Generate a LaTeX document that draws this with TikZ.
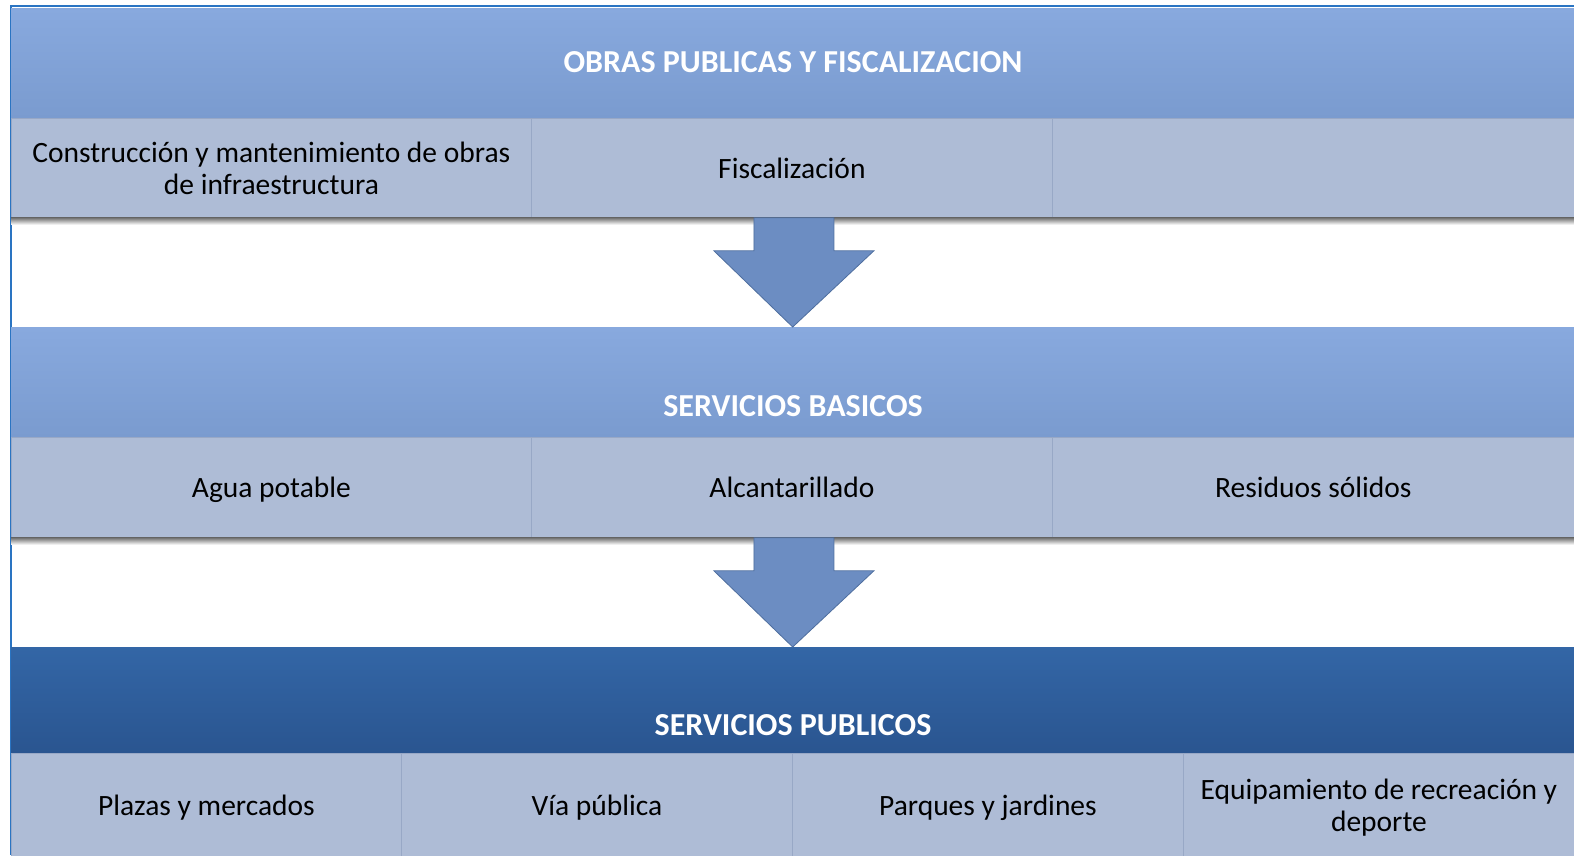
\documentclass[tikz,border=0pt]{standalone}
\usepackage{fontspec}
\setmainfont{Carlito}
\usetikzlibrary{calc}

\definecolor{bandtop}{HTML}{88A9DE}
\definecolor{bandbot}{HTML}{7A9BCF}
\definecolor{darktop}{HTML}{3366A6}
\definecolor{darkbot}{HTML}{2A5590}
\definecolor{cellfill}{HTML}{AEBCD6}
\definecolor{cellline}{HTML}{98A8C6}
\definecolor{arrowfill}{HTML}{6C8DC2}
\definecolor{arrowline}{HTML}{4E6E9E}
\definecolor{framecol}{HTML}{2A74C2}

\begin{document}
\begin{tikzpicture}[
    x=1pt, y=-1pt,
    band/.style={rectangle, inner sep=0pt, anchor=north west, minimum width=1563pt,
        top color=bandtop, bottom color=bandbot, draw=none},
    darkband/.style={band, top color=darktop, bottom color=darkbot},
    title/.style={text=white, font=\fontsize{32}{36}\selectfont\bfseries},
    cell/.style={rectangle, inner sep=0pt, anchor=north west, fill=cellfill, draw=cellline,
        line width=0.8pt, align=center, text depth=0pt, font=\fontsize{29.5}{32}\selectfont},
    rowshadow/.style={top color=black!55, bottom color=white, draw=none},
    flowarrow/.style={fill=arrowfill, draw=arrowline, line width=0.8pt, line join=miter}
]
    \useasboundingbox (0,0) rectangle (1574,855);

    % Frame lines on the left and on top
    \draw[framecol, line width=1.6pt] (11,855) |- (1574,6);

    % First band
    \node[band, minimum height=110pt] (obras) at (11,8) {};
    \node[title] (obrasT) at (793,62) {OBRAS PUBLICAS Y FISCALIZACION};
    \node[cell, minimum width=520pt, minimum height=99pt] (cons) at (11,118)
        {Construcción y mantenimiento de obras\\de infraestructura};
    \node[cell, minimum width=521pt, minimum height=99pt] (fis) at (531,118) {Fiscalización};
    \node[cell, minimum width=522pt, minimum height=99pt] (vacio) at (1052,118) {};
    \shade[rowshadow] (cons.south west) rectangle ($(vacio.south east)+(0,7)$);

    % Second band
    \node[band, minimum height=110pt] (basicos) at (11,327) {};
    \node[title] (basicosT) at (793,406) {SERVICIOS BASICOS};
    \node[cell, minimum width=520pt, minimum height=100pt] (agua) at (11,437) {Agua potable};
    \node[cell, minimum width=521pt, minimum height=100pt] (alc) at (531,437) {Alcantarillado};
    \node[cell, minimum width=522pt, minimum height=100pt] (res) at (1052,437) {Residuos sólidos};
    \shade[rowshadow] (agua.south west) rectangle ($(res.south east)+(0,7)$);

    % Third band
    \node[darkband, minimum height=106pt] (publicos) at (11,647) {};
    \node[title] (publicosT) at (793,725) {SERVICIOS PUBLICOS};
    \node[cell, minimum width=390pt, minimum height=104pt] (plazas) at (11,753) {Plazas y mercados};
    \node[cell, minimum width=391pt, minimum height=104pt] (via) at (401,753) {Vía pública};
    \node[cell, minimum width=391pt, minimum height=104pt] (parques) at (792,753) {Parques y jardines};
    \node[cell, minimum width=391pt, minimum height=104pt] (equip) at (1183,753)
        {Equipamiento de recreación y\\deporte};

    % Block arrows between the bands
    \draw[flowarrow] ($(fis.south)+(-38,0)$) -- ++(0,33) -- ++(-40,0) -- (basicos.north)
        -- ($(fis.south)+(82,33)$) -- ++(-40,0) -- ($(fis.south)+(42,0)$) -- cycle;
    \draw[flowarrow] ($(alc.south)+(-38,0)$) -- ++(0,33) -- ++(-40,0) -- (publicos.north)
        -- ($(alc.south)+(82,33)$) -- ++(-40,0) -- ($(alc.south)+(42,0)$) -- cycle;

\end{tikzpicture}
\end{document}
